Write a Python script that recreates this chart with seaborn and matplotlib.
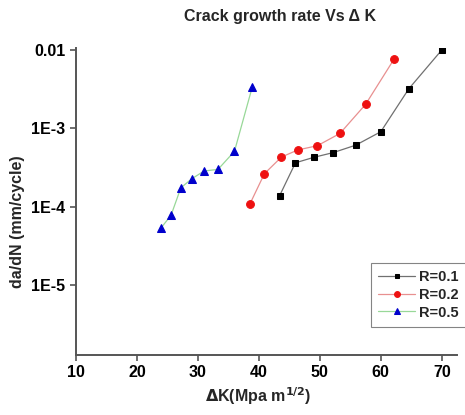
import numpy as np
import pandas as pd
import matplotlib
matplotlib.use("Agg")
import matplotlib.pyplot as plt
import seaborn as sns

# values
dk_r01 = [43.4, 46.0, 49.0, 52.2, 55.9, 60.0, 64.6, 70.0]
rate_r01 = [1.38e-4, 3.63e-4, 4.26e-4, 4.9e-4, 6.1e-4, 9.05e-4, 3.2e-3, 1.0e-2]

dk_r02 = [38.5, 40.9, 43.7, 46.4, 49.6, 53.3, 57.5, 62.2]
rate_r02 = [1.07e-4, 2.63e-4, 4.3e-4, 5.3e-4, 6.0e-4, 8.6e-4, 2.02e-3, 7.7e-3]

dk_r05 = [24.0, 25.6, 27.2, 29.0, 31.0, 33.3, 36.0, 38.9]
rate_r05 = [5.4e-5, 7.8e-5, 1.74e-4, 2.27e-4, 2.85e-4, 2.99e-4, 5.1e-4, 3.34e-3]

labels = ["R=0.1", "R=0.2", "R=0.5"]
x_ticks = [10, 20, 30, 40, 50, 60, 70]
y_ticks = [1e-5, 1e-4, 1e-3, 1e-2]
y_ticklabels = ["1E-5", "1E-4", "1E-3", "0.01"]

sns.set_style("ticks")
plt.rcParams['font.family'] = ['Liberation Sans', 'DejaVu Sans']
plt.rcParams['font.weight'] = 'bold'

fig = plt.figure(figsize=(4.65, 4.15), dpi=100)
ax = fig.add_axes([76/465, 1-355/415, (457-76)/465, (355-48)/415])

series = [
    (dk_r01, rate_r01, labels[0], "#707070", "s", "black", 4.6),
    (dk_r02, rate_r02, labels[1], "#e89090", "o", "#ee1111", 5.6),
    (dk_r05, rate_r05, labels[2], "#98d898", "^", "#0000cc", 5.8),
]
for x, y, lab, lc, mk, mc, ms in series:
    df = pd.DataFrame({"dk": x, "rate": y})
    sns.lineplot(data=df, x="dk", y="rate", ax=ax, color=lc, lw=0.9,
                 marker=mk, markerfacecolor=mc, markeredgecolor=mc,
                 markersize=ms, sort=False, estimator=None, label=lab)

ax.set_yscale("log")
ax.set_xlim(10, 72.5)
ax.set_ylim(10**-5.894, 10**(-2 + 2/78.3))
ax.set_xticks(x_ticks)
ax.set_xticklabels([str(t) for t in x_ticks])
ax.set_yticks(y_ticks)
ax.set_yticklabels(y_ticklabels)
ax.yaxis.set_minor_locator(matplotlib.ticker.NullLocator())

for s in ["top", "right"]:
    ax.spines[s].set_visible(False)
for s in ["left", "bottom"]:
    ax.spines[s].set_color("#555555")
    ax.spines[s].set_linewidth(1.4)
ax.tick_params(axis="both", colors="#555555", labelcolor="black",
               labelsize=11.5, length=4, width=1.2)
for t in ax.get_xticklabels() + ax.get_yticklabels():
    t.set_fontweight("bold")

ax.set_xlabel(r"$\Delta$K(Mpa m$^{\mathbf{1/2}}$)", fontsize=11.5,
              fontweight="bold")
ax.xaxis.set_label_coords((258-76)/381, (355-385)/307)
ax.set_ylabel("da/dN (mm/cycle)", fontsize=11.5, fontweight="bold")
ax.yaxis.set_label_coords((25-76)/381, (355-222)/307)
fig.text(280/465, 1-17/415, "Crack growth rate Vs \u0394 K", ha="center",
         va="center", fontsize=11.5, fontweight="bold")

leg = ax.legend(loc="upper left", bbox_to_anchor=(371/465, 1-263/415),
                bbox_transform=fig.transFigure, fancybox=False,
                prop={"size": 10.5, "weight": "bold"}, handlelength=2.5,
                labelspacing=0.25, borderpad=0.5, handletextpad=0.3,
                borderaxespad=0, markerscale=0.75)
leg.get_frame().set_edgecolor("#666666")
leg.get_frame().set_linewidth(0.8)

fig.savefig("out.png", dpi=100)
